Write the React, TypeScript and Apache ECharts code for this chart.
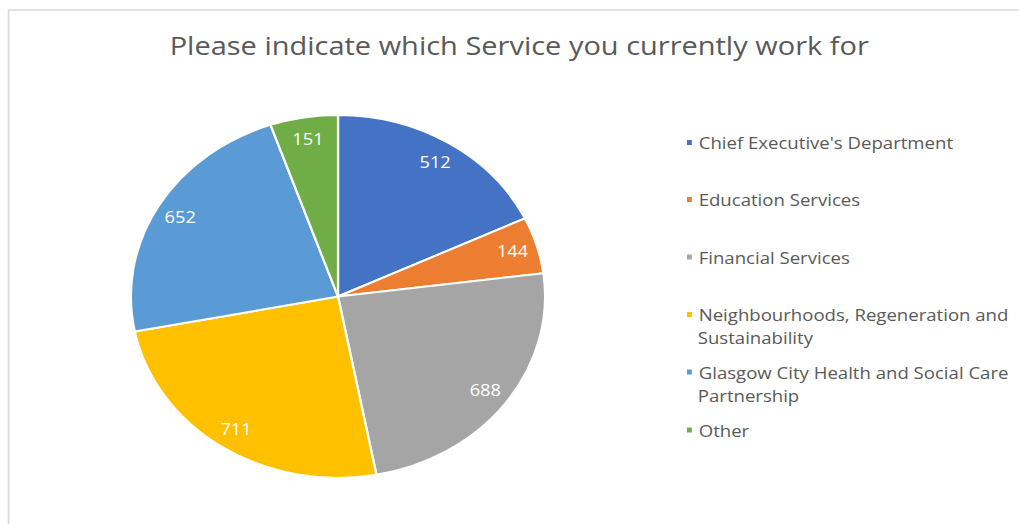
import React, { useEffect, useRef } from "react";
import * as echarts from "echarts";

const titleText = "Please indicate which Service you currently work for";
const categories = [
  "Chief Executive's Department",
  "Education Services",
  "Financial Services",
  "Neighbourhoods, Regeneration and Sustainability",
  "Glasgow City Health and Social Care Partnership",
  "Other",
];
const values = [512, 144, 688, 711, 652, 151];
const colors = ["#4472C4", "#ED7D31", "#A5A5A5", "#FFC000", "#5B9BD5", "#70AD47"];
const legendLines = [
  ["Chief Executive's Department"],
  ["Education Services"],
  ["Financial Services"],
  ["Neighbourhoods, Regeneration and", "Sustainability"],
  ["Glasgow City Health and Social Care", "Partnership"],
  ["Other"],
];

const SX = 1.1411;
const W = Math.round(1019 / SX);
const H = 524;
const FONT = "'Open Sans', 'Noto Sans', sans-serif";
const LEGEND_FS = 16.3;
const legendCenters = [142.5, 199.5, 257, 314.5, 372, 430];
const LINE2_GAP = 23;

export default function App() {
  const ref = useRef<HTMLDivElement>(null);
  useEffect(() => {
    if (!ref.current) return;
    const chart = echarts.init(ref.current, null, { renderer: "svg" });
    const data = categories.map((n, i) => ({ name: n, value: values[i], itemStyle: { color: colors[i] } }));
    const legends = categories.map((n, i) => ({
      data: [n],
      orient: "vertical",
      left: 600,
      top: legendCenters[i] - 10,
      padding: 0,
      icon: "rect",
      itemWidth: 6.3,
      itemHeight: 7,
      selectedMode: false,
      formatter: () => legendLines[i][0],
      textStyle: { color: "#595959", fontSize: LEGEND_FS, fontFamily: FONT, lineHeight: 20 },
    }));
    const graphics: any[] = [
      {
        type: "rect",
        silent: true,
        shape: { x: 7.5, y: 10, width: 2000, height: 1000 },
        style: { fill: "none", stroke: "#d9d9d9", lineWidth: 1.5 },
      },
    ];
    legendLines.forEach((lines, i) => {
      if (lines.length > 1) {
        graphics.push({
          type: "text",
          silent: true,
          x: 611.5,
          y: legendCenters[i] + LINE2_GAP,
          style: {
            text: lines[1],
            fill: "#595959",
            font: `${LEGEND_FS}px ${FONT}`,
            align: "left",
            verticalAlign: "middle",
          },
        });
      }
    });
    chart.setOption({
      animation: false,
      color: colors,
      title: {
        text: titleText,
        left: 455,
        top: 45,
        padding: 0,
        textAlign: "center",
        textVerticalAlign: "middle",
        textStyle: { color: "#595959", fontSize: 25.4, fontWeight: "normal", fontFamily: FONT },
      },
      legend: legends,
      graphic: graphics,
      series: [
        {
          type: "pie",
          center: [338 / SX, 296.5],
          radius: 181.5,
          startAngle: 90,
          clockwise: true,
          data,
          label: { show: false },
          labelLine: { show: false },
          itemStyle: { borderColor: "#ffffff", borderWidth: 2 },
          emphasis: { disabled: true },
        },
        {
          type: "pie",
          center: [338 / SX, 296.5],
          radius: [131.5, 181.5],
          startAngle: 90,
          clockwise: true,
          silent: true,
          data: categories.map((n, i) => ({ name: n, value: values[i] })),
          itemStyle: { color: "rgba(0,0,0,0)", borderWidth: 0 },
          label: {
            show: true,
            position: "inside",
            formatter: "{c}",
            color: "#ffffff",
            fontSize: 16,
            fontFamily: FONT,
          },
          labelLine: { show: false },
          emphasis: { disabled: true },
        },
      ],
    });
    return () => chart.dispose();
  }, []);
  return (
    <div
      ref={ref}
      style={{
        position: "absolute",
        left: 0,
        top: 0,
        width: W,
        height: H,
        transform: `scaleX(${SX})`,
        transformOrigin: "0 0",
        background: "#ffffff",
      }}
    />
  );
}
